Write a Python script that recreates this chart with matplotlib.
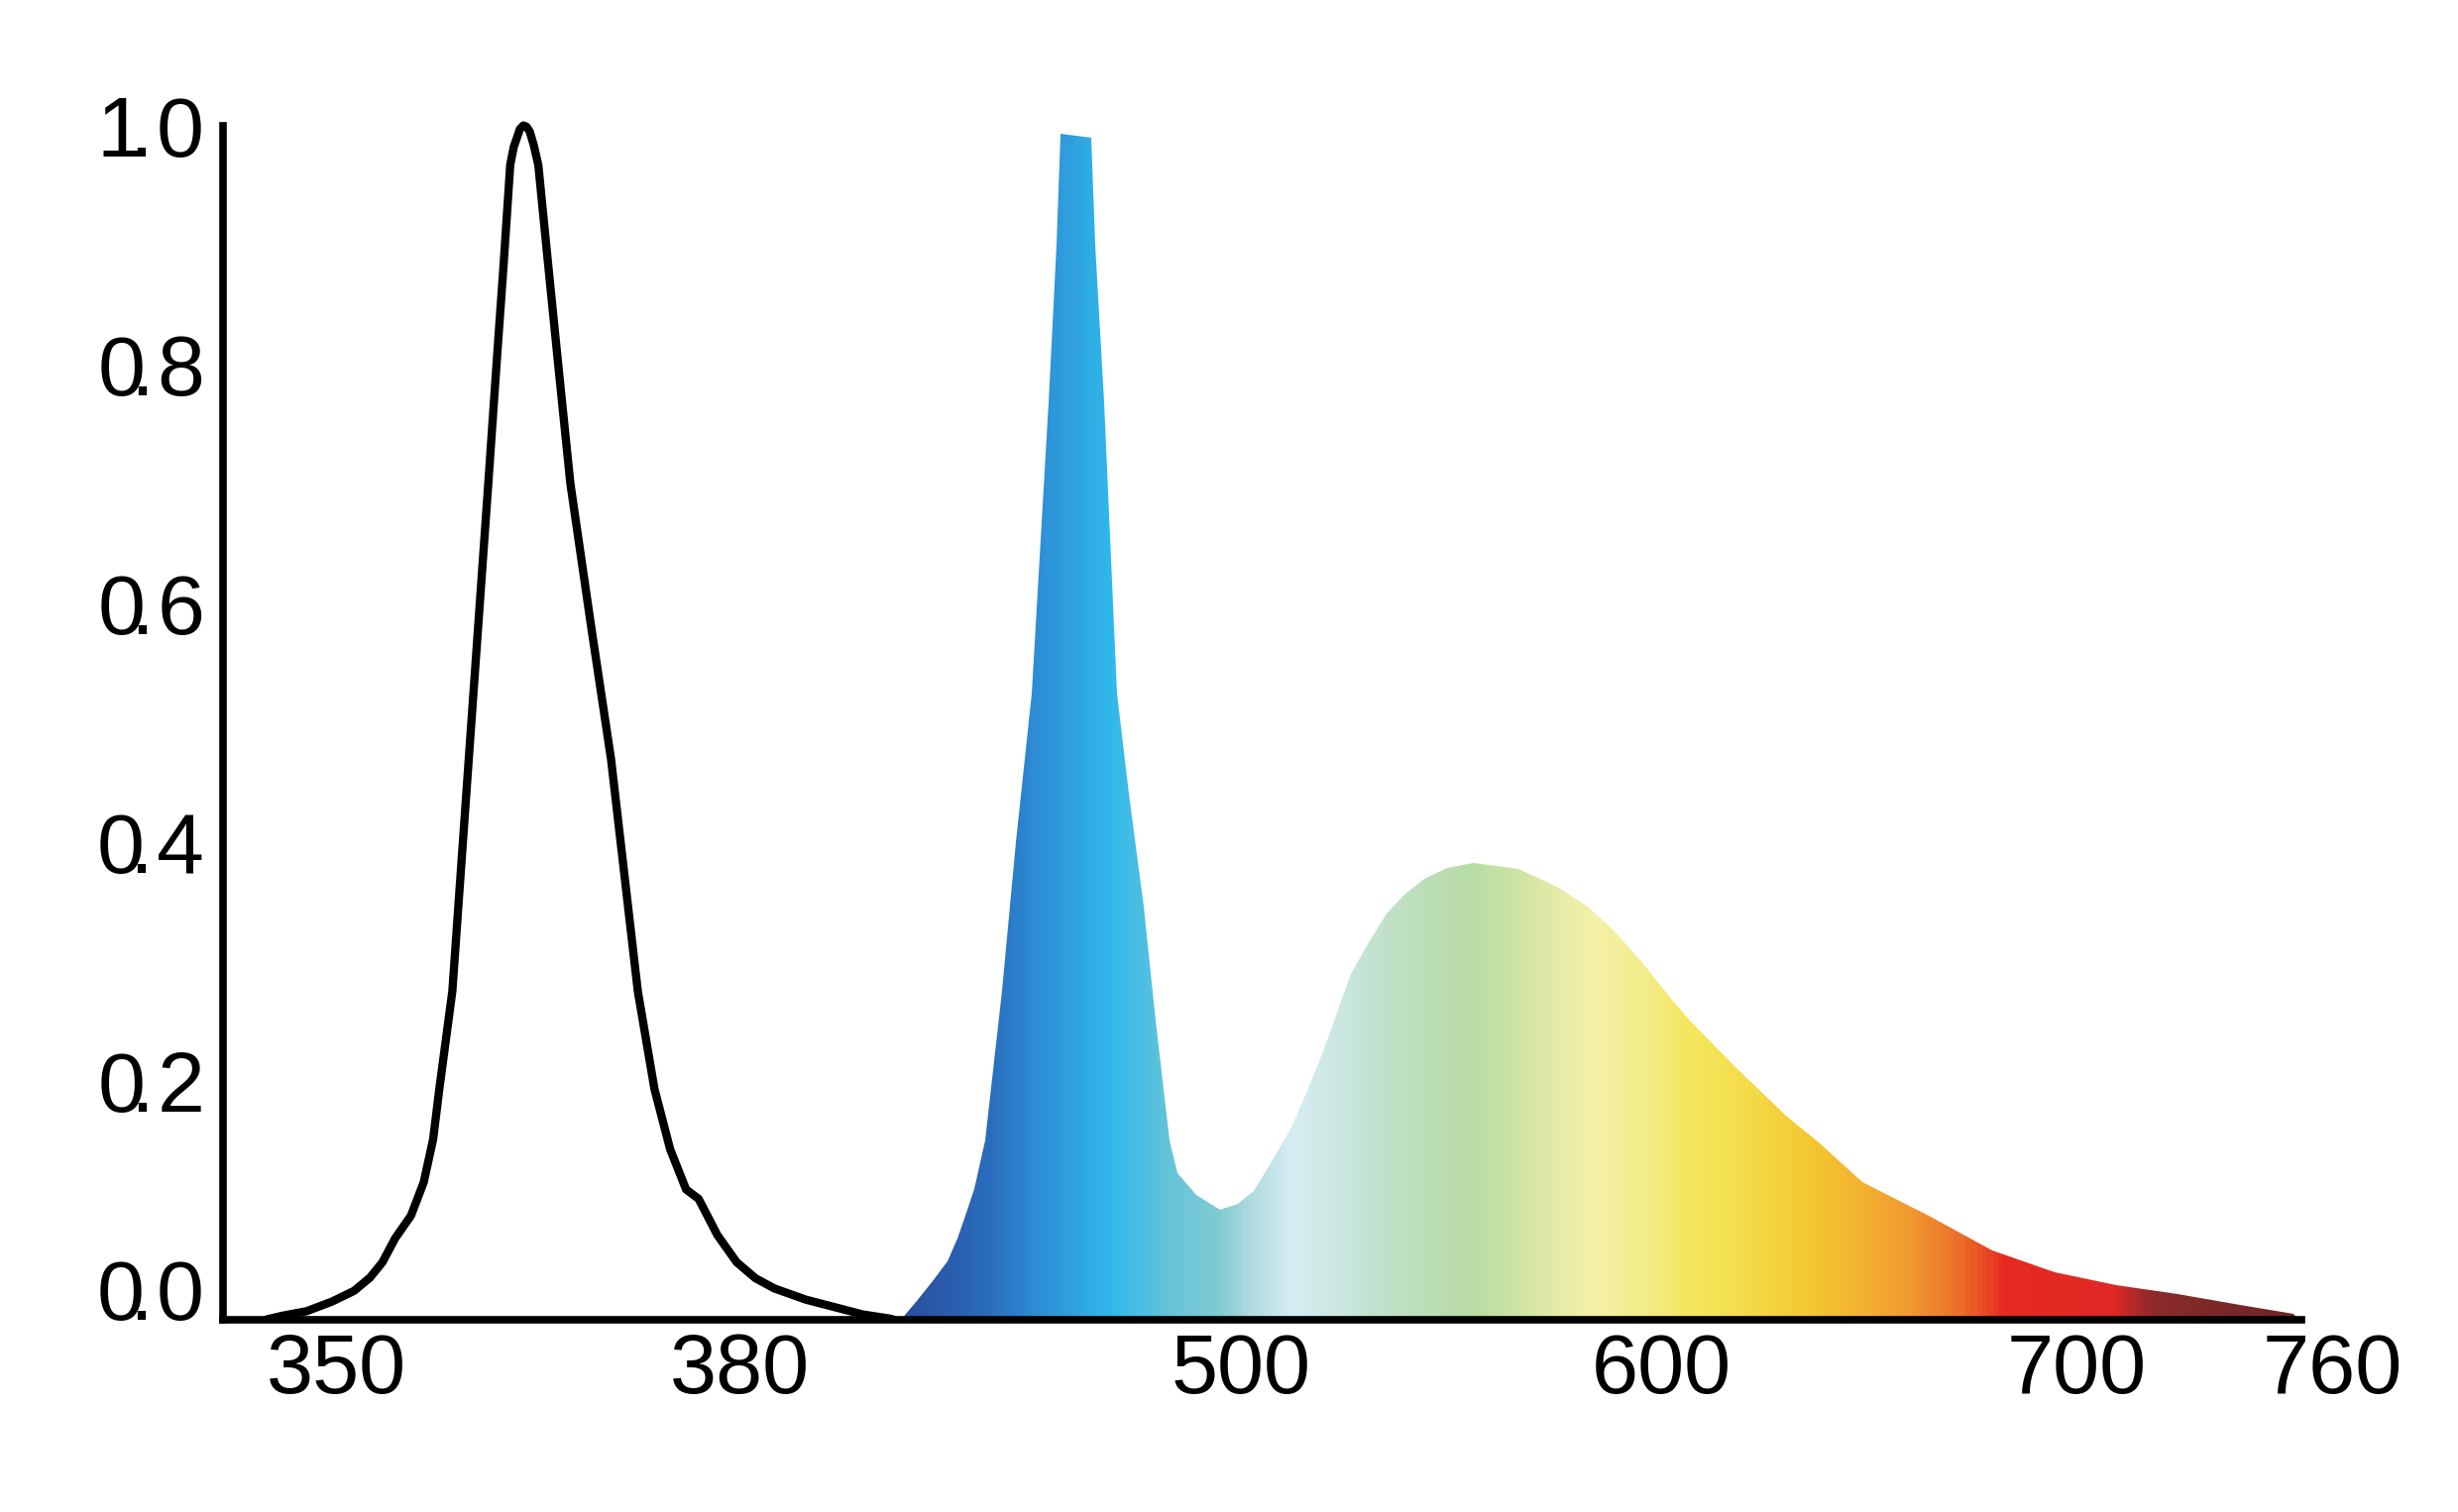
import numpy as np
import matplotlib
matplotlib.use("Agg")
import matplotlib.pyplot as plt
from matplotlib.colors import LinearSegmentedColormap, Normalize
from matplotlib.patches import Polygon

# UV LED spectrum (black outline), relative intensity vs wavelength (nm)
uv_nm = [344.75, 345.87, 347.76, 349.63, 351.28, 352.46, 353.40, 354.34, 355.52,
         356.47, 357.17, 357.63, 358.60, 359.82, 360.52, 361.30, 361.89, 362.42,
         362.91, 363.17, 363.42, 363.63, 363.89, 364.12, 364.36, 364.65, 365.00,
         365.73, 366.48, 367.39, 368.94, 370.42, 372.41, 373.65, 374.82, 376.00,
         376.94, 378.34, 379.77, 383.75, 388.29, 395.86, 403.44, 409.48, 415.51,
         416.75]
uv_rel = [0.0, 0.003, 0.007, 0.015, 0.024, 0.035, 0.048, 0.068, 0.087,
          0.115, 0.151, 0.193, 0.275, 0.469, 0.58, 0.704, 0.80, 0.884,
          0.967, 0.982, 0.99, 0.997, 1.0, 0.999, 0.995, 0.984, 0.967,
          0.884, 0.80, 0.70, 0.58, 0.469, 0.275, 0.193, 0.1425, 0.109,
          0.101, 0.0706, 0.048, 0.0346, 0.026, 0.0166, 0.0097, 0.0042, 0.001,
          0.0]

# white LED spectrum (coloured fill)
led_nm = [418.6, 422.45, 426.1, 429.69, 432.1, 433.93, 436.1, 438.8, 442.7, 446.0,
          449.8, 453.9, 455.8, 456.7, 464.0, 465.1, 467.2, 470.2, 473.0, 476.6,
          479.4, 482.9, 484.6, 489.28, 495.0, 499.25, 503.0, 507.39, 511.9, 515.52,
          519.2, 522.76, 526.1, 529.96, 534.5, 539.03, 543.5, 548.88, 555.2, 560.63,
          566.0, 575.0, 582.31, 588.4, 594.92, 602.3, 606.8, 617.5, 630.2, 637.7,
          648.3, 664.2, 679.6, 694.7, 709.2, 723.6, 738.3, 750.8, 751.9]
led_rel = [0.0, 0.0154, 0.032, 0.0486, 0.068, 0.087, 0.109, 0.15, 0.275, 0.40,
           0.524, 0.768, 0.90, 0.993, 0.99, 0.90, 0.768, 0.524, 0.44, 0.346,
           0.25, 0.15, 0.123, 0.1046, 0.092, 0.0967, 0.108, 0.133, 0.161, 0.19,
           0.222, 0.257, 0.289, 0.314, 0.34, 0.357, 0.369, 0.378, 0.382, 0.380,
           0.377, 0.362, 0.346, 0.327, 0.301, 0.269, 0.25, 0.2126, 0.17, 0.148,
           0.115, 0.087, 0.058, 0.040, 0.029, 0.021, 0.0125, 0.0045, 0.0]

x_ticks = [350, 380, 500, 600, 700, 760]
x_labels = ["350", "380", "500", "600", "700", "760"]
y_ticks = [0.0, 0.2, 0.4, 0.6, 0.8, 1.0]
y_labels = ["0.0", "0.2", "0.4", "0.6", "0.8", "1.0"]

# colour ramp of the fill along the wavelength
ramp_nm = [418, 428, 439, 450, 462, 468, 477, 483, 494, 503, 512, 522, 531, 540,
           555, 566, 574, 583, 597, 606, 616, 635, 649, 660, 673, 683, 709, 716,
           720, 734, 753]
ramp_col = ['#2a4e9e', '#2a5aaa', '#2a6cbc', '#2d8cd4', '#30a8e2', '#2eb8ea',
            '#50bfe0', '#66c4d8', '#80cad0', '#b4dce0', '#d6ecf2', '#cce8e2',
            '#c2e2d0', '#bedfbe', '#b8dca4', '#cde4a4', '#e2eaa6', '#f4f0a8',
            '#f2ec88', '#f4e660', '#f4e050', '#f4c830', '#f2b030', '#f09a30',
            '#ec6a28', '#e62a22', '#e02824', '#a02828', '#8a2a2a', '#7a2828',
            '#6e2424']

# the wavelength axis is stretched by hand in the original -> piecewise linear scale
knot_nm = np.array([330, 350, 380, 500, 600, 700, 760, 800])
knot_pos = np.array([43.7, 215, 472, 792, 1060, 1325, 1488, 1596.7])


def fwd(x):
    return np.interp(x, knot_nm, knot_pos)


def inv(p):
    return np.interp(p, knot_pos, knot_nm)


fig = plt.figure(figsize=(24.8, 15.26), dpi=100)
ax = fig.add_axes([0.0906, 0.1273, 0.8584, 0.8292])
ax.set_xscale('function', functions=(fwd, inv))
ax.set_xlim(341.5, 760)
ax.set_ylim(0, 1.05)

for s in ['top', 'right']:
    ax.spines[s].set_visible(False)
ax.spines['left'].set_linewidth(5.5)
ax.spines['bottom'].set_linewidth(5.5)
ax.spines['left'].set_bounds(0, 1.0)
ax.spines['bottom'].set_bounds(341.5, 752.6)

# gradient fill clipped to the white LED curve
lo, hi = ramp_nm[0], ramp_nm[-1]
cmap = LinearSegmentedColormap.from_list(
    'spec', [((n - lo) / (hi - lo), c) for n, c in zip(ramp_nm, ramp_col)])
verts = list(zip(led_nm, led_rel)) + [(led_nm[-1], 0), (led_nm[0], 0)]
poly = Polygon(verts, closed=True, facecolor='none', edgecolor='none')
ax.add_patch(poly)
edges = np.linspace(led_nm[0], led_nm[-1], 800)
mids = (edges[:-1] + edges[1:]) / 2
mesh = ax.pcolormesh(edges, [0, 1.0], mids[None, :], cmap=cmap,
                     norm=Normalize(lo, hi), shading='flat', zorder=2)
mesh.set_clip_path(poly)

ax.plot(uv_nm, uv_rel, color='black', lw=6, solid_capstyle='round',
        solid_joinstyle='round', zorder=3)

# tight decimal point like the original lettering
y_text = [r'$\mathregular{%s\!.\!%s}$' % tuple(s.split('.')) for s in y_labels]
ax.set_xticks(x_ticks, x_labels)
ax.set_yticks(y_ticks, y_text)
ax.tick_params(length=0)
ax.tick_params(axis='x', pad=8.5, labelsize=61)
ax.tick_params(axis='y', pad=14.5, labelsize=62)
for lab in ax.get_xticklabels() + ax.get_yticklabels():
    lab.set_fontfamily(['Liberation Sans', 'DejaVu Sans'])
ax.get_yticklabels()[0].set_va('baseline')

fig.savefig('out.png', dpi=100)
